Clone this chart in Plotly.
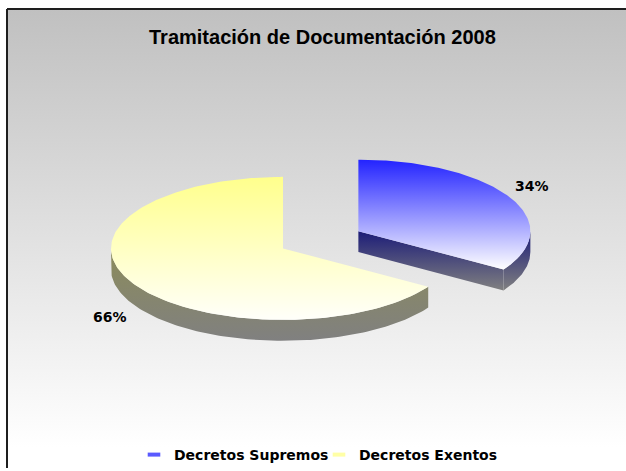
import numpy as np
import plotly.graph_objects as go

# ---- data ----
categories = ["Decretos Supremos", "Decretos Exentos"]
values = [34, 66]

# ---- styles ----
top_colors = [("#2323ff", "#ffffff"), ("#ffff8c", "#fffffa")]
side_colors = [("#1c1c78", "#808080"), ("#8c8c5a", "#808080")]
legend_colors = ["#5a5aff", "#ffffa6"]
explode = [0.5, 0.0]

W, H = 626, 471
CX, CY = 283, H - 250   # y-up coordinates
RX, RY = 172, 72
DEPTH = 21

def rim(cx, cy, th, dz=0.0):
    th = np.asarray(th)
    return cx + RX * np.sin(th), cy + RY * np.cos(th) - dz

def grad_poly(xs, ys, c_top, c_bot, y0=None, y1=None):
    xs = np.asarray(xs); ys = np.asarray(ys)
    lo = ys.min() if y0 is None else y0
    hi = ys.max() if y1 is None else y1
    return go.Scatter(
        x=np.append(xs, xs[0]), y=np.append(ys, ys[0]),
        mode="lines", fill="toself", line=dict(width=0, color=c_bot),
        fillgradient=dict(type="vertical", start=lo, stop=hi,
                          colorscale=[[0, c_bot], [1, c_top]]),
        hoverinfo="skip", showlegend=False,
    )

fig = go.Figure()

# background panel with gradient
bx = [7, 660, 660, 7]
by = [H - 9, H - 9, -20, -20]
fig.add_trace(go.Scatter(
    x=bx + [bx[0]], y=by + [by[0]], mode="lines", fill="toself",
    line=dict(color="#1e1e1e", width=2),
    fillgradient=dict(type="vertical", start=H - 450, stop=H - 9,
                      colorscale=[[0, "#ffffff"], [1, "#c0c0c0"]]),
    hoverinfo="skip", showlegend=False,
))

total = sum(values)
cum = 0
annots = []
for i, v in enumerate(values):
    t1 = cum / total * 2 * np.pi
    cum += v
    t2 = cum / total * 2 * np.pi
    mid = (t1 + t2) / 2
    cx = CX + RX * np.sin(mid) * explode[i]
    cy = CY + RY * np.cos(mid) * explode[i]

    front_lo = max(t1, np.pi / 2)
    front_hi = min(t2, 3 * np.pi / 2)
    tops, bots = [], []
    if np.sin(t2) > 1e-6 or np.sin(t1) < -1e-6:
        tops.append(cy)
    if front_lo < front_hi:
        ths = np.linspace(front_lo, front_hi, 80)
        _, yy = rim(cx, cy, ths)
        tops.append(yy.max())
        bots.append(yy.min() - DEPTH)
    for t in (t1, t2):
        _, yy = rim(cx, cy, t)
        bots.append(float(yy) - DEPTH)
    side_top = max(tops) if tops else cy
    side_bot = min(bots)
    ct, cb = side_colors[i]

    # radial faces
    for t, vis in ((t2, np.sin(t2) > 1e-6), (t1, np.sin(t1) < -1e-6)):
        if vis:
            rx_, ry_ = rim(cx, cy, t)
            fx = [cx, rx_, rx_, cx]
            fy = [cy, ry_, ry_ - DEPTH, cy - DEPTH]
            fig.add_trace(grad_poly(fx, fy, ct, cb, side_bot, side_top))
    # outer rim side
    if front_lo < front_hi:
        ths = np.linspace(front_lo, front_hi, 120)
        tx, ty = rim(cx, cy, ths)
        bx_, by_ = rim(cx, cy, ths[::-1], DEPTH)
        fig.add_trace(grad_poly(np.concatenate([tx, bx_]), np.concatenate([ty, by_]),
                                ct, cb, side_bot, side_top))
    # top face
    ths = np.linspace(t1, t2, 200)
    tx, ty = rim(cx, cy, ths)
    px = np.concatenate([[cx], tx])
    py = np.concatenate([[cy], ty])
    fig.add_trace(grad_poly(px, py, top_colors[i][0], top_colors[i][1]))

    # label
    k = 1.15
    lx = cx + RX * np.sin(mid) * k
    ly = cy + RY * np.cos(mid) * k
    if np.cos(mid) < 0:
        ly -= DEPTH + 8
    else:
        ly += 6
    annots.append(dict(x=lx, y=ly, text=f"{round(v / total * 100)}%", showarrow=False,
                       font=dict(family="DejaVu Sans", size=14, color="black", weight="bold"),
                       xref="x", yref="y"))

# legend entries
for name, col in zip(categories, legend_colors):
    fig.add_trace(go.Scatter(
        x=[None], y=[None], mode="markers", name=name,
        marker=dict(symbol="line-ew-open", size=9, color=col,
                    line=dict(width=4, color=col)),
    ))

fig.update_layout(
    width=W, height=H,
    margin=dict(l=0, r=0, t=0, b=0),
    paper_bgcolor="white", plot_bgcolor="white",
    xaxis=dict(range=[0, W], visible=False, fixedrange=True),
    yaxis=dict(range=[0, H], visible=False, fixedrange=True),
    title=dict(text="Tramitación de Documentación 2008", x=0.515, xanchor="center",
               y=1 - 37 / H, yanchor="middle",
               font=dict(family="Liberation Sans", size=20, color="black", weight="bold")),
    annotations=annots,
    showlegend=True,
    legend=dict(orientation="h", x=134 / W, xanchor="left", y=1 - 458 / H, yanchor="middle",
                bgcolor="rgba(0,0,0,0)", itemwidth=30, tracegroupgap=0,
                entrywidth=140, entrywidthmode="pixels",
                font=dict(family="DejaVu Sans", size=14, color="black", weight="bold")),
)

fig.write_html("out.html", post_script="document.body.style.margin='0px';",
               config={"displayModeBar": False})
